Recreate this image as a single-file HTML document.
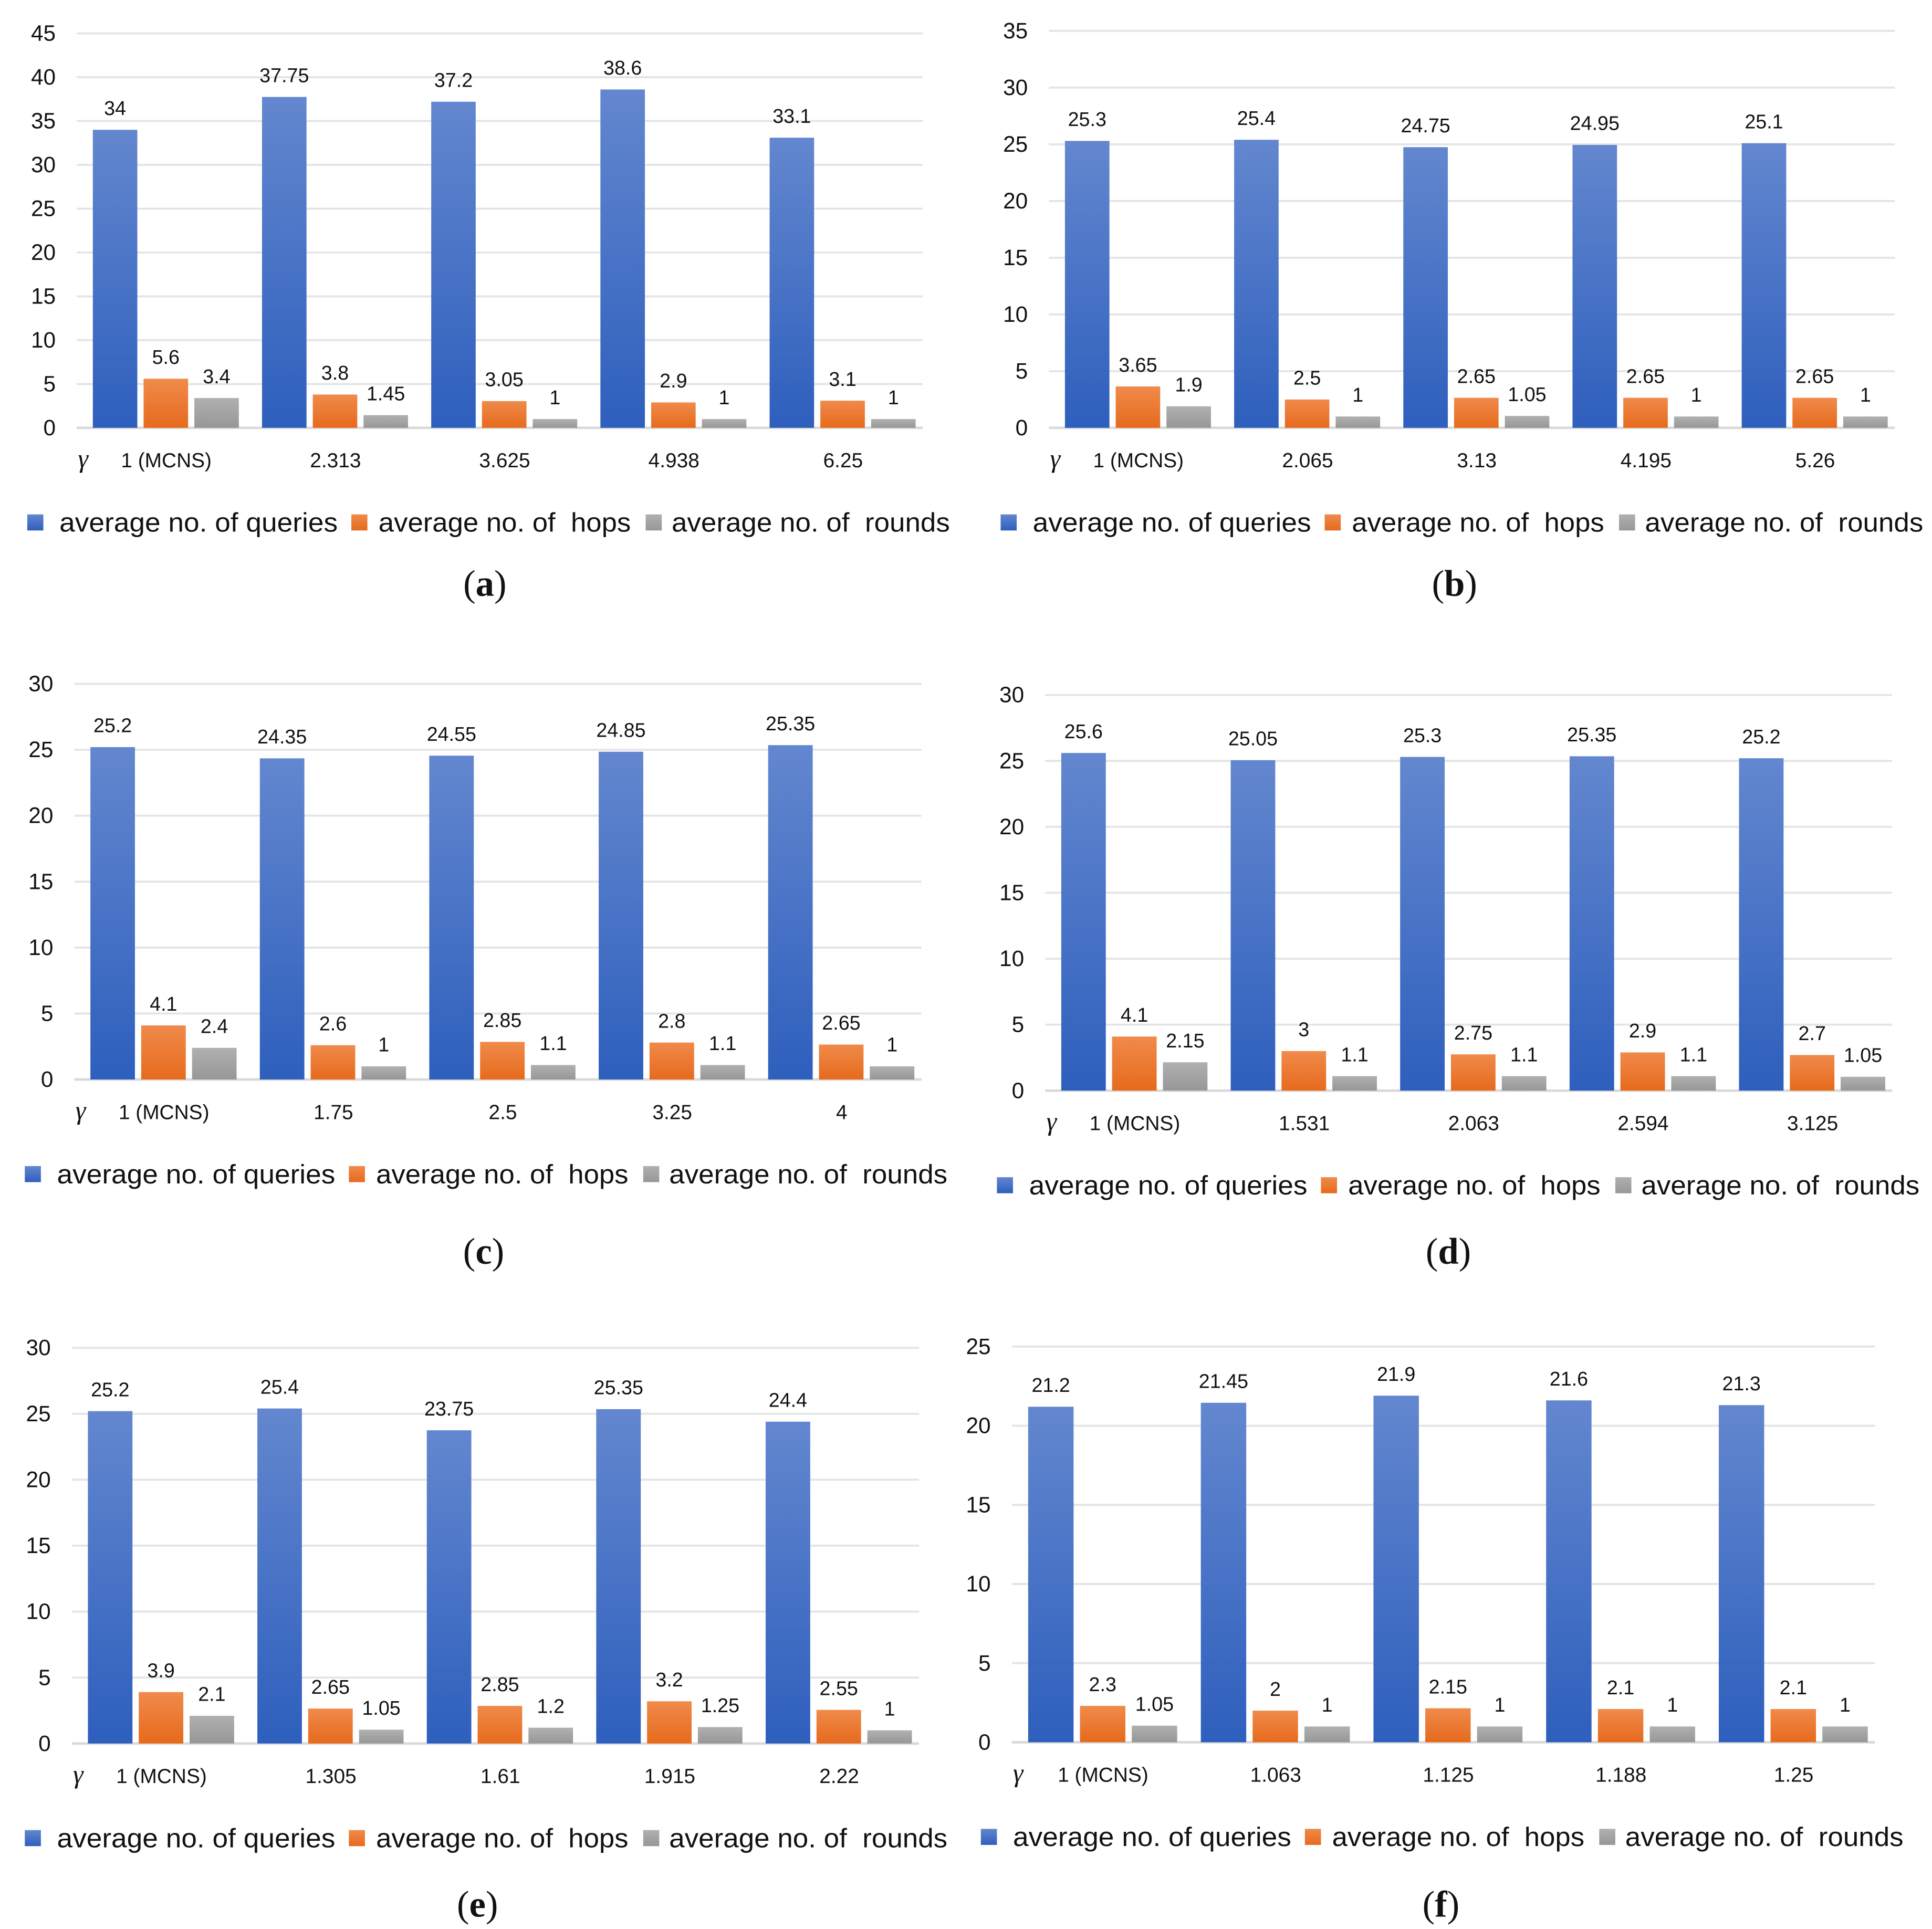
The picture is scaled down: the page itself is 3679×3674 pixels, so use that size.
<!DOCTYPE html>
<html><head><meta charset="utf-8"><style>
html,body{margin:0;padding:0;background:#fff}
svg{display:block}
text{font-family:"Liberation Sans","DejaVu Sans",sans-serif;fill:#111}
text.serif{font-family:"Liberation Serif","DejaVu Serif",serif}
text.pre{white-space:pre}
</style></head><body>
<svg id="chart" width="3679" height="3674" viewBox="0 0 1562 1560" xmlns="http://www.w3.org/2000/svg">
<defs>
<linearGradient id="gb" x1="0" y1="0" x2="0" y2="1"><stop offset="0" stop-color="#6387cf"/><stop offset="1" stop-color="#2e5fbd"/></linearGradient>
<linearGradient id="go" x1="0" y1="0" x2="0" y2="1"><stop offset="0" stop-color="#f08a4b"/><stop offset="1" stop-color="#e66a1c"/></linearGradient>
<linearGradient id="gg" x1="0" y1="0" x2="0" y2="1"><stop offset="0" stop-color="#b0b0b0"/><stop offset="1" stop-color="#979797"/></linearGradient>
</defs>
</svg>
<script>
const catsA=["1 (MCNS)","2.313","3.625","4.938","6.25"];
const qA=[34,37.75,37.2,38.6,33.1];
const hA=[5.6,3.8,3.05,2.9,3.1];
const rA=[3.4,1.45,1,1,1];
const catsB=["1 (MCNS)","2.065","3.13","4.195","5.26"];
const qB=[25.3,25.4,24.75,24.95,25.1];
const hB=[3.65,2.5,2.65,2.65,2.65];
const rB=[1.9,1,1.05,1,1];
const catsC=["1 (MCNS)","1.75","2.5","3.25","4"];
const qC=[25.2,24.35,24.55,24.85,25.35];
const hC=[4.1,2.6,2.85,2.8,2.65];
const rC=[2.4,1,1.1,1.1,1];
const catsD=["1 (MCNS)","1.531","2.063","2.594","3.125"];
const qD=[25.6,25.05,25.3,25.35,25.2];
const hD=[4.1,3,2.75,2.9,2.7];
const rD=[2.15,1.1,1.1,1.1,1.05];
const catsE=["1 (MCNS)","1.305","1.61","1.915","2.22"];
const qE=[25.2,25.4,23.75,25.35,24.4];
const hE=[3.9,2.65,2.85,3.2,2.55];
const rE=[2.1,1.05,1.2,1.25,1];
const catsF=["1 (MCNS)","1.063","1.125","1.188","1.25"];
const qF=[21.2,21.45,21.9,21.6,21.3];
const hF=[2.3,2,2.15,2.1,2.1];
const rF=[1.05,1,1,1,1];
const ticksA=[0,5,10,15,20,25,30,35,40,45];
const ticksB=[0,5,10,15,20,25,30,35];
const ticks30=[0,5,10,15,20,25,30];
const ticks25=[0,5,10,15,20,25];

const svg=document.getElementById('chart');
const NS='http://www.w3.org/2000/svg';
function mk(tag,attrs,parent){const e=document.createElementNS(NS,tag);for(const k in attrs)e.setAttribute(k,attrs[k]);parent.appendChild(e);return e;}

const panels=[
 {id:'a',cats:catsA,q:qA,h:hA,r:rA,ticks:ticksA,x0:62,x1:746,y0:346,yTop:27,legY:423,lx:22,labX:392,labY:472},
 {id:'b',cats:catsB,q:qB,h:hB,r:rB,ticks:ticksB,x0:848,x1:1532,y0:346,yTop:25,legY:423,lx:809,labX:1176,labY:472},
 {id:'c',cats:catsC,q:qC,h:hC,r:rC,ticks:ticks30,x0:60,x1:745,y0:873,yTop:553,legY:950,lx:20,labX:391,labY:1012},
 {id:'d',cats:catsD,q:qD,h:hD,r:rD,ticks:ticks30,x0:845,x1:1530,y0:882,yTop:562,legY:959,lx:806,labX:1171,labY:1012},
 {id:'e',cats:catsE,q:qE,h:hE,r:rE,ticks:ticks30,x0:58,x1:743,y0:1410,yTop:1090,legY:1487,lx:20,labX:386,labY:1540},
 {id:'f',cats:catsF,q:qF,h:hF,r:rF,ticks:ticks25,x0:818,x1:1516,y0:1409,yTop:1089,legY:1486,lx:793,labX:1165,labY:1540}
];

panels.forEach(p=>{
 const g=mk('g',{},svg);
 
 
 const maxT=p.ticks[p.ticks.length-1];
 const yS=v=>p.y0-(v/maxT)*(p.y0-p.yTop);
 const gw=(p.x1-p.x0)/p.cats.length;
 p.ticks.forEach(t=>{
  const y=yS(t);
  const l=mk('line',{x1:p.x0,x2:p.x1,y1:y,y2:y,stroke:t===0?'#d9d9d9':'#e4e4e4','stroke-width':t===0?2:1.6},g);
  
  
  const tx=mk('text',{x:p.x0-17,y:y+6,'text-anchor':'end','font-size':18},g);
  tx.textContent=t;
  
  
 });
 const series=[[p.q,'url(#gb)','queries'],[p.h,'url(#go)','hops'],[p.r,'url(#gg)','rounds']];
 p.cats.forEach((c,i)=>{
  const gx=p.x0+i*gw;
  const bw=gw*0.263, gap=gw*0.037, off=gw*0.095;
  series.forEach((s,j)=>{
   const v=s[0][i];
   const x=gx+off+j*(bw+gap);
   const b=mk('rect',{x:x,y:yS(v),width:bw,height:p.y0-yS(v),fill:s[1]},g);
   
   
   const vl=mk('text',{x:x+bw/2,y:yS(v)-12,'text-anchor':'middle','font-size':16},g);
   vl.textContent=v;
   
   
  });
  const cl=mk('text',{x:gx+gw/2+4,y:p.y0+32,'text-anchor':'middle','font-size':16.5},g);
  cl.textContent=c;
  
  
 });
 const gm=mk('text',{x:p.x0+1,y:p.y0+32,'font-size':21,'font-style':'italic','class':'serif'},g);
 gm.textContent='γ';
 
 
 const legs=[['url(#gb)','average no. of queries',0,26,225],['url(#go)','average no. of  hops',262,22,204],['url(#gg)','average no. of  rounds',500,21,225]];
 legs.forEach((L,k)=>{
  const sq=mk('rect',{x:p.lx+L[2],y:p.legY-7,width:13,height:13,fill:L[0]},g);
  
  
  const lt=mk('text',{x:p.lx+L[2]+L[3],y:p.legY+7,'font-size':21.5,'class':'pre',textLength:L[4],lengthAdjust:'spacingAndGlyphs'},g);
  lt.textContent=L[1];
  
  
 });
 const pl=mk('text',{x:p.labX,y:p.labY+10,'text-anchor':'middle','font-size':30,'class':'serif'},g);
 pl.innerHTML='(<tspan font-weight="bold">'+p.id+'</tspan>)';
 
 
});
</script>
</body></html>
